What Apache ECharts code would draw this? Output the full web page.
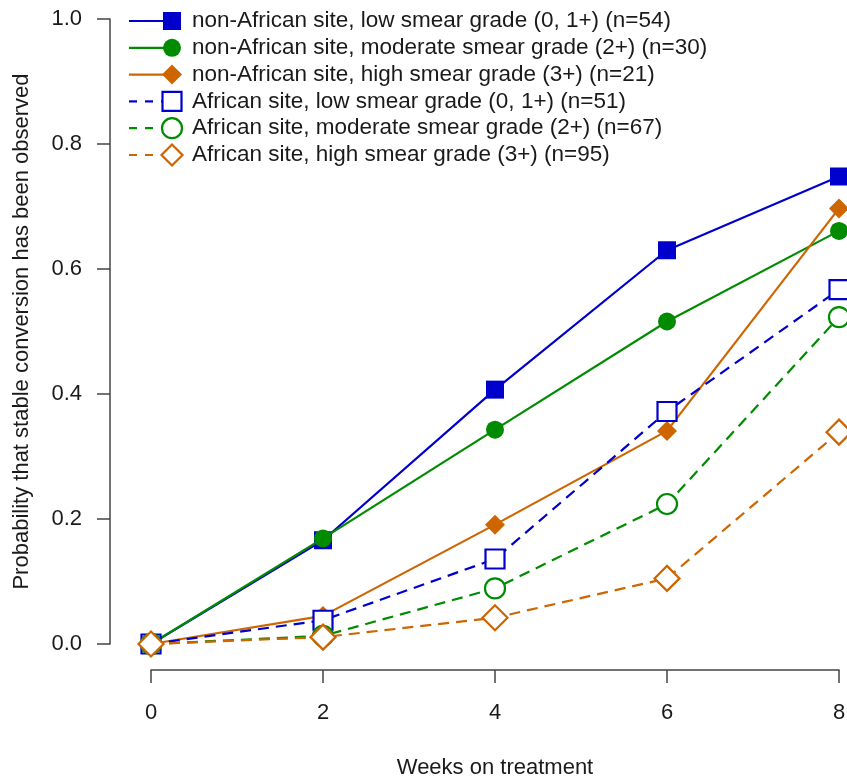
<!DOCTYPE html>
<html>
<head>
<meta charset="utf-8">
<script src="https://cdn.jsdelivr.net/npm/echarts@6/dist/echarts.min.js"></script>
<style>
  html, body { margin: 0; padding: 0; background: #fff; }
  #chart { width: 847px; height: 782px; }
</style>
</head>
<body>
<div id="chart"></div>
<script>
// weeks on treatment
var weeks = [0, 2, 4, 6, 8]
var yTicks = [0, 0.2, 0.4, 0.6, 0.8, 1.0]

// probability that stable conversion has been observed
var nonAfLow = [0, 0.166, 0.407, 0.630, 0.748]
var nonAfMod = [0, 0.169, 0.343, 0.516, 0.661]
var nonAfHigh = [0, 0.045, 0.191, 0.341, 0.697]
var afLow = [0, 0.038, 0.136, 0.372, 0.567]
var afMod = [0, 0.013, 0.089, 0.224, 0.523]
var afHigh = [0, 0.011, 0.042, 0.105, 0.339]

var names = [
  'non-African site, low smear grade (0, 1+) (n=54)',
  'non-African site, moderate smear grade (2+) (n=30)',
  'non-African site, high smear grade (3+) (n=21)',
  'African site, low smear grade (0, 1+) (n=51)',
  'African site, moderate smear grade (2+) (n=67)',
  'African site, high smear grade (3+) (n=95)'
]
var values = [nonAfLow, nonAfMod, nonAfHigh, afLow, afMod, afHigh]

var BLUE = '#0000cd'
var GREEN = '#008b00'
var ORANGE = '#cd6600'
var colors = [BLUE, GREEN, ORANGE, BLUE, GREEN, ORANGE]
var shapes = ['rect', 'circle', 'diamond', 'rect', 'circle', 'diamond']
var filled = [true, true, true, false, false, false]
var sizes = [18, 18, 20, 19, 20, 25]
var FONT = '"Liberation Sans", Arial, sans-serif'
var DASH = [11, 7]

var series = values.map(function (vals, i) {
  return {
    name: names[i],
    type: 'line',
    data: vals.map(function (v, j) { return [weeks[j], v] }),
    symbol: shapes[i],
    symbolSize: sizes[i],
    showSymbol: true,
    clip: false,
    animation: false,
    lineStyle: { color: colors[i], width: 2.2, type: filled[i] ? 'solid' : DASH },
    itemStyle: filled[i]
      ? { color: colors[i], borderWidth: 0 }
      : { color: '#fff', borderColor: colors[i], borderWidth: 2.2 },
    z: 2 + i
  }
})

// legend drawn like the R legend: line, marker at the end, text
var legendGraphics = []
names.forEach(function (name, i) {
  var y = 21 + i * 26.8
  var mx = 172
  var r = Math.min(sizes[i], 21) / 2
  legendGraphics.push({
    type: 'line',
    shape: { x1: 129, y1: y, x2: mx, y2: y },
    style: { stroke: colors[i], lineWidth: 2.2, lineDash: filled[i] ? null : [8, 8] }
  })
  var mstyle = filled[i]
    ? { fill: colors[i] }
    : { fill: '#fff', stroke: colors[i], lineWidth: 2.2 }
  var marker
  if (shapes[i] === 'rect') {
    marker = { type: 'rect', shape: { x: mx - r, y: y - r, width: 2 * r, height: 2 * r } }
  } else if (shapes[i] === 'circle') {
    marker = { type: 'circle', shape: { cx: mx, cy: y, r: r } }
  } else {
    marker = { type: 'polygon', shape: { points: [[mx, y - r], [mx + r, y], [mx, y + r], [mx - r, y]] } }
  }
  marker.style = mstyle
  legendGraphics.push(marker)
  legendGraphics.push({
    type: 'text',
    x: 192,
    y: y,
    style: { text: name, fill: '#1a1a1a', font: '22.5px ' + FONT, verticalAlign: 'middle', textAlign: 'left' }
  })
})

var chart = echarts.init(document.getElementById('chart'))
chart.setOption({
  backgroundColor: '#fff',
  animation: false,
  textStyle: { fontFamily: FONT },
  grid: { left: 151, right: 8, top: 19, bottom: 138, outerBoundsMode: 'none' },
  xAxis: {
    type: 'value',
    min: 0,
    max: 8,
    interval: 2,
    offset: 26,
    name: 'Weeks on treatment',
    nameLocation: 'middle',
    nameGap: 87,
    nameTextStyle: { fontSize: 22, color: '#1a1a1a' },
    axisLine: { show: true, onZero: false, lineStyle: { color: '#444', width: 1.5 } },
    axisTick: { show: true, length: 13, lineStyle: { color: '#444', width: 1.5 } },
    axisLabel: { fontSize: 22, color: '#1a1a1a', margin: 32 },
    splitLine: { show: false }
  },
  yAxis: {
    type: 'value',
    min: yTicks[0],
    max: yTicks[yTicks.length - 1],
    interval: 0.2,
    offset: 41,
    name: 'Probability that stable conversion has been observed',
    nameLocation: 'middle',
    nameGap: 77,
    nameTextStyle: { fontSize: 22, color: '#1a1a1a' },
    axisLine: { show: true, onZero: false, lineStyle: { color: '#444', width: 1.5 } },
    axisTick: { show: true, length: 13, lineStyle: { color: '#444', width: 1.5 } },
    axisLabel: {
      fontSize: 22,
      color: '#1a1a1a',
      margin: 28,
      formatter: function (v) { return v.toFixed(1) }
    },
    splitLine: { show: false }
  },
  graphic: legendGraphics,
  series: series
})
</script>
</body>
</html>
